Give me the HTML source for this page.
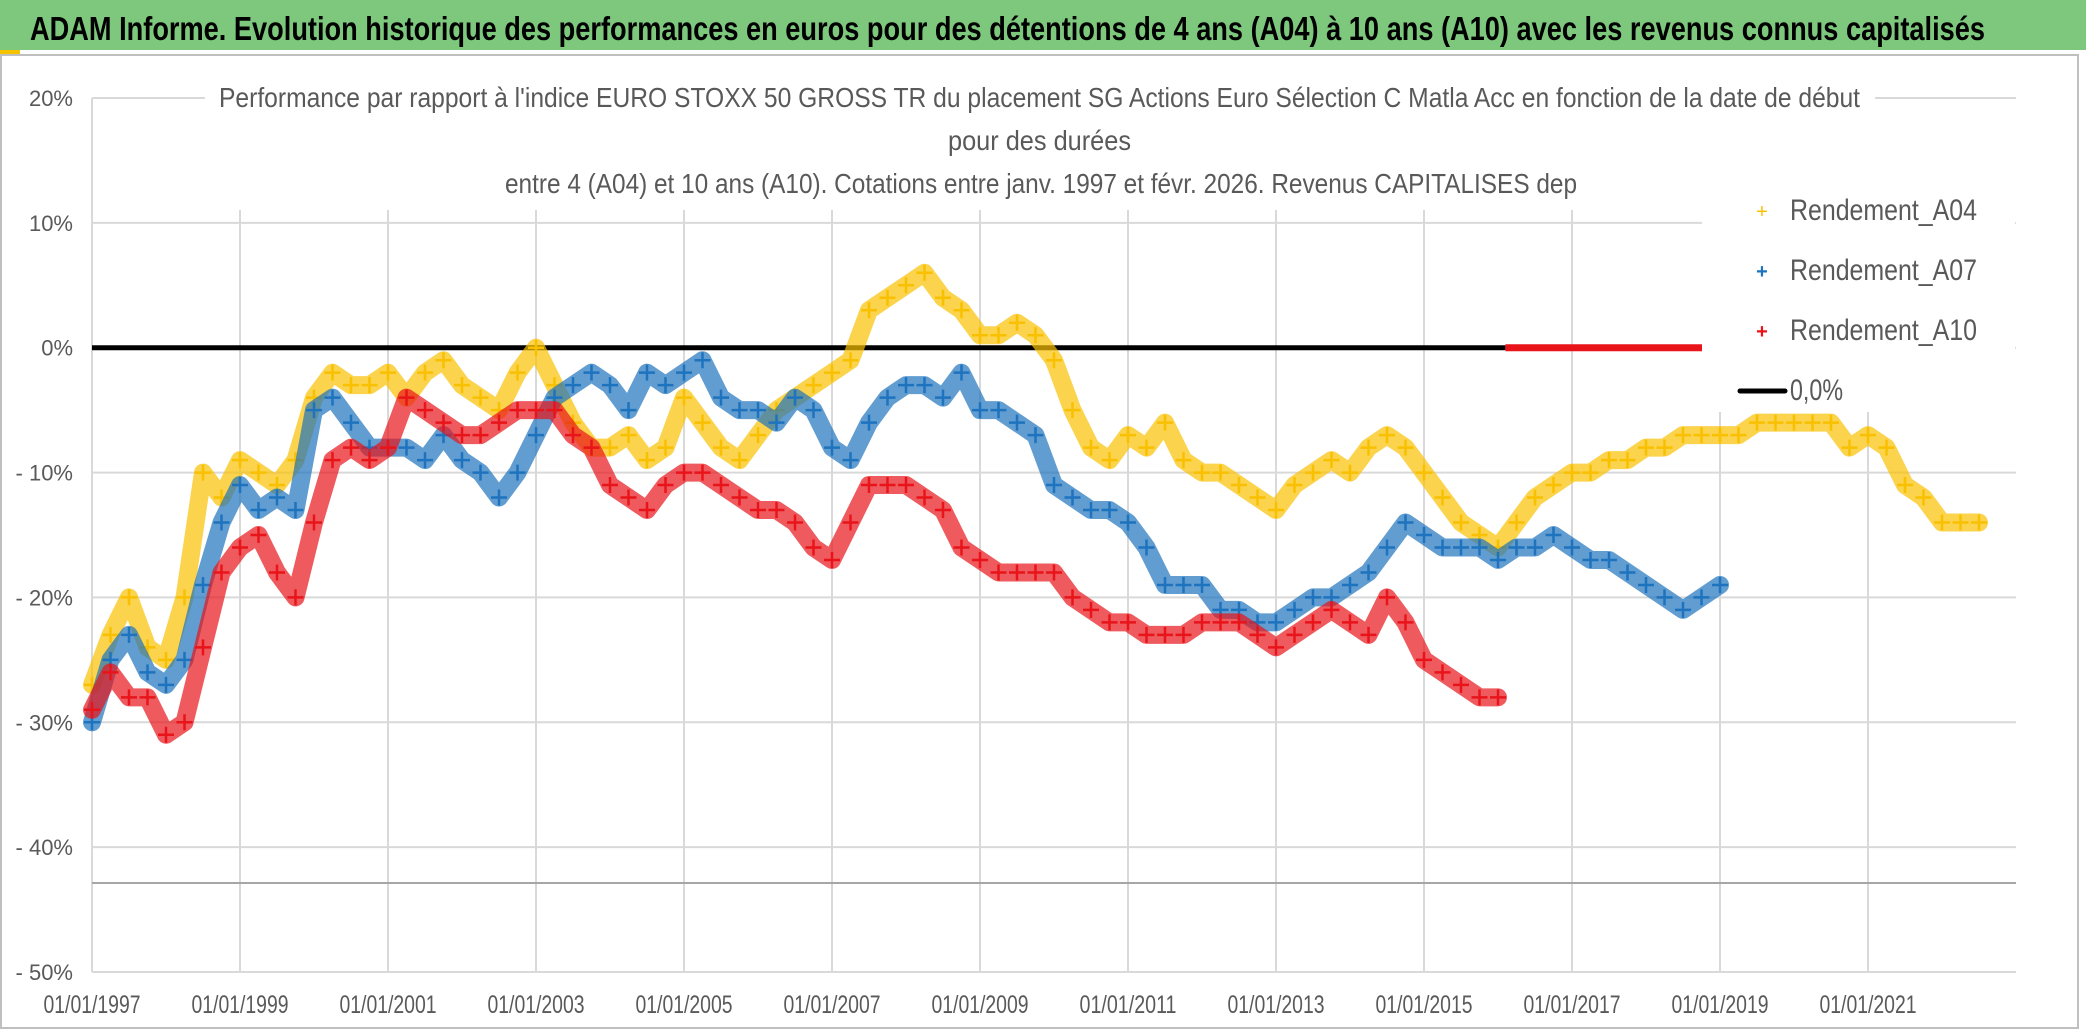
<!DOCTYPE html>
<html><head><meta charset="utf-8"><style>
html,body{margin:0;padding:0;background:#fff;}
svg{display:block;font-family:"Liberation Sans",sans-serif;}
</style></head><body>
<svg id="chart" width="2086" height="1031" viewBox="0 0 2086 1031" xmlns="http://www.w3.org/2000/svg">
<rect x="0" y="0" width="2086" height="50" fill="#7dc87c"/>
<text x="30" y="40" font-size="33" font-weight="bold" fill="#000" textLength="1955" lengthAdjust="spacingAndGlyphs">ADAM Informe. Evolution historique des performances en euros pour des détentions de 4 ans (A04) à 10 ans (A10) avec les revenus connus capitalisés</text>
<rect x="0" y="50" width="20" height="4" fill="#f4c400"/>
<rect x="1" y="55" width="2077" height="973" fill="none" stroke="#bfbfbf" stroke-width="2"/>
<g id="grid"></g>
<g id="marks"></g>
<g id="axes"></g>
<rect x="205" y="80" width="1670" height="130" fill="#fff"/>
<text x="219" y="107" font-size="28" fill="#595959" textLength="1641" lengthAdjust="spacingAndGlyphs">Performance par rapport à l'indice EURO STOXX 50 GROSS TR  du placement SG Actions Euro Sélection C Matla Acc en fonction de la date de début</text>
<text x="948" y="150" font-size="28" fill="#595959" textLength="183" lengthAdjust="spacingAndGlyphs">pour des durées</text>
<text x="505" y="193" font-size="28" fill="#595959" textLength="1072" lengthAdjust="spacingAndGlyphs">entre 4 (A04) et 10 ans (A10). Cotations entre janv. 1997 et févr. 2026. Revenus CAPITALISES dep</text>
<g>
<rect x="1702" y="180" width="313" height="232" fill="#fff"/>
<text x="1762" y="218" font-size="20" fill="#f9c000" text-anchor="middle">+</text>
<text x="1790" y="220" font-size="30" fill="#595959" textLength="187" lengthAdjust="spacingAndGlyphs">Rendement_A04</text>
<text x="1762" y="278" font-size="20" font-weight="bold" fill="#1e73be" text-anchor="middle">+</text>
<text x="1790" y="280" font-size="30" fill="#595959" textLength="187" lengthAdjust="spacingAndGlyphs">Rendement_A07</text>
<text x="1762" y="338" font-size="20" font-weight="bold" fill="#e8141a" text-anchor="middle">+</text>
<text x="1790" y="340" font-size="30" fill="#595959" textLength="187" lengthAdjust="spacingAndGlyphs">Rendement_A10</text>
<line x1="1740" y1="391" x2="1785" y2="391" stroke="#000" stroke-width="5" stroke-linecap="round"/>
<text x="1790" y="400" font-size="30" fill="#595959" textLength="53" lengthAdjust="spacingAndGlyphs">0,0%</text>
</g>
</svg>
<script>
const yTicks=[20,10,0,-10,-20,-30,-40,-50];
const yTickLabels=["20%","10%","0%","- 10%","- 20%","- 30%","- 40%","- 50%"];
const xTicks=[1997,1999,2001,2003,2005,2007,2009,2011,2013,2015,2017,2019,2021];
const xTickLabels=["01/01/1997","01/01/1999","01/01/2001","01/01/2003","01/01/2005","01/01/2007","01/01/2009","01/01/2011","01/01/2013","01/01/2015","01/01/2017","01/01/2019","01/01/2021"];
const a04Start=1997.0;
const a04Values=[-27,-23,-20,-24,-25,-20,-10,-12,-9,-10,-11,-9,-4,-2,-3,-3,-2,-4,-2,-1,-3,-4,-5,-2,0,-3,-6,-8,-8,-7,-9,-8,-4,-6,-8,-9,-7,-5,-4,-3,-2,-1,3,4,5,6,4,3,1,1,2,1,-1,-5,-8,-9,-7,-8,-6,-9,-10,-10,-11,-12,-13,-11,-10,-9,-10,-8,-7,-8,-10,-12,-14,-15,-16,-14,-12,-11,-10,-10,-9,-9,-8,-8,-7,-7,-7,-7,-6,-6,-6,-6,-6,-8,-7,-8,-11,-12,-14,-14,-14];
const a07Start=1997.0;
const a07Values=[-30,-25,-23,-26,-27,-25,-19,-14,-11,-13,-12,-13,-5,-4,-6,-8,-8,-8,-9,-7,-9,-10,-12,-10,-7,-4,-3,-2,-3,-5,-2,-3,-2,-1,-4,-5,-5,-6,-4,-5,-8,-9,-6,-4,-3,-3,-4,-2,-5,-5,-6,-7,-11,-12,-13,-13,-14,-16,-19,-19,-19,-21,-21,-22,-22,-21,-20,-20,-19,-18,-16,-14,-15,-16,-16,-16,-17,-16,-16,-15,-16,-17,-17,-18,-19,-20,-21,-20,-19];
const a10Start=1997.0;
const a10Values=[-29,-26,-28,-28,-31,-30,-24,-18,-16,-15,-18,-20,-14,-9,-8,-9,-8,-4,-5,-6,-7,-7,-6,-5,-5,-5,-7,-8,-11,-12,-13,-11,-10,-10,-11,-12,-13,-13,-14,-16,-17,-14,-11,-11,-11,-12,-13,-16,-17,-18,-18,-18,-18,-20,-21,-22,-22,-23,-23,-23,-22,-22,-22,-23,-24,-23,-22,-21,-22,-23,-20,-22,-25,-26,-27,-28,-28];
const stepYears=0.25;
const a10ZeroRange=[2016.1,2019.8];
const zeroRange=[1997,2016.1];

const X0=92,X1=2016,Y0=98,Y1=972;
const xMin=1997,xMax=2023,yMax=20,yMin=-50;
const sx=v=>X0+(v-xMin)/(xMax-xMin)*(X1-X0);
const sy=v=>Y0+(yMax-v)/(yMax-yMin)*(Y1-Y0);
const NS="http://www.w3.org/2000/svg";
function mk(tag,attrs,parent){const e=document.createElementNS(NS,tag);for(const k in attrs)e.setAttribute(k,attrs[k]);parent.appendChild(e);return e;}
const grid=document.getElementById('grid'),marks=document.getElementById('marks'),axes=document.getElementById('axes');
yTicks.forEach((t,i)=>{
 const l=mk('line',{x1:X0,x2:X1,y1:sy(t),y2:sy(t),stroke:'#d9d9d9','stroke-width':2},grid);
 
 
 const tx=mk('text',{x:73,y:sy(t)+8,'font-size':22,fill:'#595959','text-anchor':'end'},axes);
 tx.textContent=yTickLabels[i];
 
 
});
xTicks.forEach((t,i)=>{
 const l=mk('line',{x1:sx(t),x2:sx(t),y1:Y0,y2:Y1,stroke:'#d9d9d9','stroke-width':2},grid);
 
 
 const tx=mk('text',{x:sx(t),y:1013,'font-size':25,fill:'#595959','text-anchor':'middle',textLength:97,lengthAdjust:'spacingAndGlyphs'},axes);
 tx.textContent=xTickLabels[i];
 
 
});
const extra=mk('line',{x1:X0,x2:X1,y1:883,y2:883,stroke:'#a6a6a6','stroke-width':2},grid);


const zl=mk('line',{x1:sx(zeroRange[0]),x2:sx(zeroRange[1]),y1:sy(0),y2:sy(0),stroke:'#000','stroke-width':5},marks);


function series(vals,start,color,name,w){
 const g=mk('g',{},marks);
 
 
 const pts=vals.map((v,i)=>sx(start+i*stepYears)+','+sy(v)).join(' ');
 const pl=mk('polyline',{points:pts,fill:'none',stroke:color,'stroke-width':w,'stroke-linejoin':'round','stroke-linecap':'round',opacity:0.7},g);
 
 
 vals.forEach((v,i)=>{
  const x=sx(start+i*stepYears),y=sy(v);
  const p=mk('path',{d:`M${x-8},${y}H${x+8}M${x},${y-8}V${y+8}`,stroke:color,'stroke-width':2.5},g);
  
  
 });
}
series(a04Values,a04Start,'#f9c000','series-a04',18);
series(a07Values,a07Start,'#1e73be','series-a07',18);
series(a10Values,a10Start,'#e8141a','series-a10',18);
const rz=mk('line',{x1:sx(a10ZeroRange[0]),x2:sx(a10ZeroRange[1]),y1:sy(0),y2:sy(0),stroke:'#e8141a','stroke-width':7},marks);


</script>
</body></html>
